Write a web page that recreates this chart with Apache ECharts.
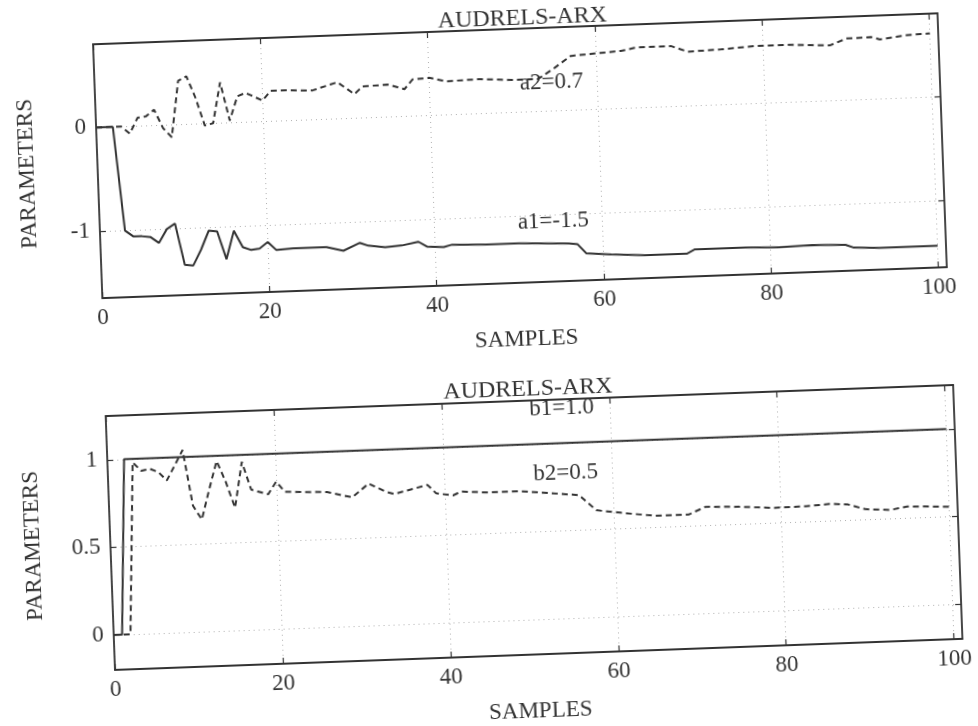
<!DOCTYPE html>
<html>
<head>
<meta charset="utf-8">
<title>AUDRELS-ARX</title>
<script src="https://cdn.jsdelivr.net/npm/echarts@6.0.0/dist/echarts.min.js"></script>
<style>
  html, body { margin: 0; padding: 0; background: #fff; overflow: hidden; }
  /* the source is a slightly tilted scan, so the whole figure is turned a little */
  #chart { width: 978px; height: 726px; transform: rotate(-2.1deg); transform-origin: 489px 363px; }
</style>
</head>
<body>
<div id="chart"></div>
<script>
// tick values
const xTicks = [0, 20, 40, 60, 80, 100];
const yTicksTop = [-1, 0];
const yTicksBottom = [0, 0.5, 1];

// top plot: a1 (solid), a2 (dashed)
const a1Samples = [0, 1, 2, 3, 4, 5, 6, 7, 8, 9, 10, 11, 12, 13, 14, 15, 16, 17, 18, 19, 20, 21, 23, 27, 29, 31, 32, 34, 36, 38, 39, 41, 42, 46, 50, 56, 57, 58, 61, 65, 70, 71, 77, 81, 85, 89, 90, 93, 95, 100];
const a1Values  = [0, 0, 0, -1.0, -1.06, -1.06, -1.07, -1.13, -1.0, -0.95, -1.35, -1.36, -1.21, -1.03, -1.04, -1.31, -1.04, -1.2, -1.23, -1.22, -1.16, -1.24, -1.23, -1.23, -1.27, -1.2, -1.23, -1.25, -1.24, -1.21, -1.26, -1.27, -1.25, -1.26, -1.26, -1.28, -1.29, -1.38, -1.4, -1.42, -1.42, -1.38, -1.38, -1.39, -1.38, -1.39, -1.42, -1.43, -1.43, -1.43];

const a2Samples = [0, 1, 2, 3, 4, 5, 6, 7, 8, 9, 10, 11, 12, 13, 14, 15, 16, 17, 18, 20, 21, 23, 26, 29, 31, 32, 35, 37, 38, 40, 42, 46, 50, 53, 55, 57, 59, 63, 65, 69, 71, 75, 79, 83, 88, 90, 93, 94, 97, 100];
const a2Values  = [0, 0, 0, 0, -0.07, 0.08, 0.09, 0.15, -0.03, -0.12, 0.42, 0.46, 0.25, -0.02, 0, 0.39, 0.02, 0.25, 0.28, 0.2, 0.29, 0.29, 0.28, 0.35, 0.23, 0.3, 0.31, 0.26, 0.35, 0.36, 0.32, 0.33, 0.31, 0.31, 0.41, 0.52, 0.53, 0.55, 0.58, 0.58, 0.52, 0.53, 0.55, 0.55, 0.53, 0.59, 0.595, 0.57, 0.6, 0.61];

// bottom plot: b1 (solid), b2 (dashed)
const b1Samples = [0, 1, 2, 50, 100];
const b1Values  = [0, 0, 1, 1, 1];

const b2Samples = [0, 1, 2, 3, 4, 5, 6, 7, 8, 9, 10, 11, 12, 13, 14, 15, 16, 17, 19, 20, 21, 26, 29, 31, 33, 34, 38, 39, 41, 42, 45, 49, 56, 58, 61, 65, 69, 71, 75, 79, 83, 86, 88, 90, 93, 95, 100];
const b2Values  = [0, 0, 0, 0.98, 0.93, 0.94, 0.92, 0.87, 0.955, 1.04, 0.72, 0.64, 0.81, 0.97, 0.85, 0.7, 0.96, 0.8, 0.77, 0.84, 0.78, 0.77, 0.735, 0.81, 0.76, 0.745, 0.79, 0.74, 0.725, 0.745, 0.735, 0.735, 0.7, 0.61, 0.59, 0.566, 0.567, 0.607, 0.6, 0.587, 0.589, 0.598, 0.59, 0.56, 0.55, 0.567, 0.557];

// in-plot annotations: text and where it sits (data coords)
const noteTop = [['a2=0.7', 54.6, 0.27], ['a1=-1.5', 54.2, -1.06]];
const noteBottom = [['b1=1.0', 54.3, 1.2], ['b2=0.5', 54.5, 0.83]];

const FONT = 'Liberation Serif';
const INK = '#333';
const SIZE = 23;
const GRIDLINE = { color: '#b0b0b0', width: 1, type: [1, 4] };

function pairs(xs, ys) {
  return xs.map((x, i) => [x, ys[i]]);
}

function xAxisFor(g, pos) {
  const main = pos === 'bottom';
  return {
    type: 'value', gridIndex: g, position: pos, min: 0, max: 101,
    name: main ? 'SAMPLES' : '', nameLocation: 'middle', nameGap: 45,
    nameTextStyle: { fontFamily: FONT, fontSize: SIZE, color: INK },
    axisLine: { show: true, onZero: false, lineStyle: { color: INK, width: 1.8 } },
    axisTick: { show: true, inside: true, length: 6, customValues: xTicks, lineStyle: { color: INK, width: 1.2 } },
    axisLabel: { show: main, customValues: xTicks, margin: 8, fontFamily: FONT, fontSize: SIZE, color: INK },
    splitLine: { show: main, lineStyle: GRIDLINE }
  };
}

function yAxisFor(g, pos, min, max, ticks, gap) {
  const main = pos === 'left';
  return {
    type: 'value', gridIndex: g, position: pos, min: min, max: max,
    name: main ? 'PARAMETERS' : '', nameLocation: 'middle', nameGap: gap,
    nameTextStyle: { fontFamily: FONT, fontSize: SIZE, color: INK },
    axisLine: { show: true, onZero: false, lineStyle: { color: INK, width: 1.8 } },
    axisTick: { show: true, inside: true, length: 6, customValues: ticks, lineStyle: { color: INK, width: 1.2 } },
    axisLabel: { show: main, customValues: ticks, margin: 10, fontFamily: FONT, fontSize: SIZE, color: INK },
    splitLine: { show: main, lineStyle: GRIDLINE }
  };
}

function notes(list) {
  return {
    symbol: 'circle', symbolSize: 0, silent: true,
    label: { show: true, position: 'inside', formatter: '{b}', fontFamily: FONT, fontSize: SIZE, color: INK },
    data: list.map(n => ({ name: n[0], coord: [n[1], n[2]] }))
  };
}

function lineSeries(name, xi, yi, data, dashed, marks) {
  const s = {
    name: name, type: 'line', xAxisIndex: xi, yAxisIndex: yi,
    data: data, symbol: 'none', smooth: false,
    lineStyle: { color: INK, width: dashed ? 2 : 2, type: dashed ? [6, 4] : 'solid' }
  };
  if (marks) s.markPoint = marks;
  return s;
}

const chart = echarts.init(document.getElementById('chart'));

chart.setOption({
  animation: false,
  backgroundColor: '#fff',
  title: [
    { text: 'AUDRELS-ARX', left: 530, top: 3, textAlign: 'center',
      textStyle: { fontFamily: FONT, fontSize: 24, fontWeight: 'normal', color: INK } },
    { text: 'AUDRELS-ARX', left: 522, top: 374, textAlign: 'center',
      textStyle: { fontFamily: FONT, fontSize: 24, fontWeight: 'normal', color: INK } }
  ],
  grid: [
    { left: 105, right: 28, top: 30, height: 254, outerBoundsMode: 'none' },
    { left: 104, right: 26, top: 402, height: 254, outerBoundsMode: 'none' }
  ],
  xAxis: [
    xAxisFor(0, 'bottom'), xAxisFor(0, 'top'),
    xAxisFor(1, 'bottom'), xAxisFor(1, 'top')
  ],
  yAxis: [
    yAxisFor(0, 'left', -1.64, 0.8, yTicksTop, 59), yAxisFor(0, 'right', -1.64, 0.8, yTicksTop, 0),
    yAxisFor(1, 'left', -0.2, 1.25, yTicksBottom, 66), yAxisFor(1, 'right', -0.2, 1.25, yTicksBottom, 0)
  ],
  series: [
    lineSeries('a1', 0, 0, pairs(a1Samples, a1Values), false, notes(noteTop)),
    lineSeries('a2', 0, 0, pairs(a2Samples, a2Values), true),
    lineSeries('b1', 2, 2, pairs(b1Samples, b1Values), false, notes(noteBottom)),
    lineSeries('b2', 2, 2, pairs(b2Samples, b2Values), true)
  ]
});
</script>
</body>
</html>
